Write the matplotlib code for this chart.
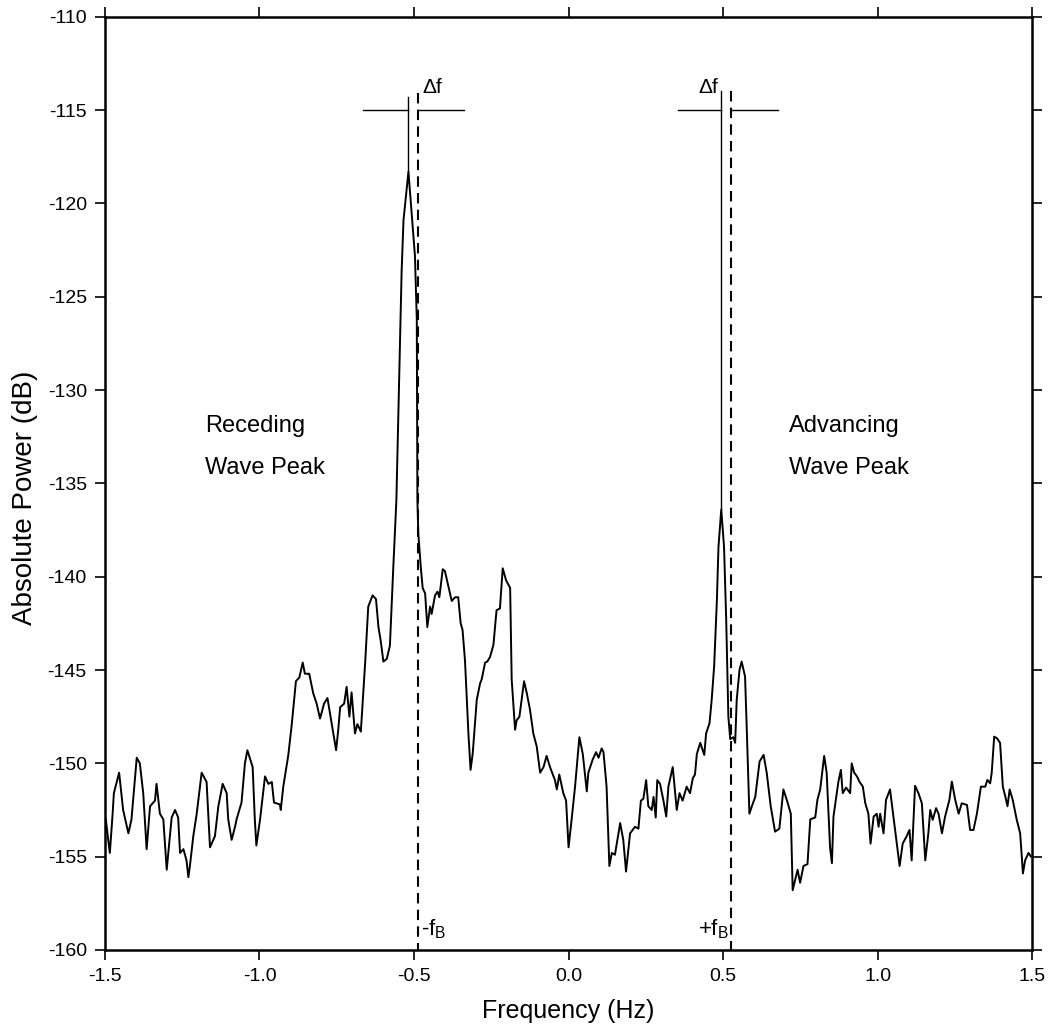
import matplotlib
matplotlib.use("Agg")
import matplotlib.pyplot as plt

plt.rcParams['font.family'] = ['Liberation Sans', 'DejaVu Sans']
plt.rcParams['axes.unicode_minus'] = False
plt.rcParams['mathtext.default'] = 'regular'

# ---- data ----
freq = [-1.497, -1.490, -1.484, -1.475, -1.471, -1.454, -1.441, -1.424, -1.414, -1.397,
        -1.387, -1.376, -1.365, -1.354, -1.338, -1.333, -1.322, -1.311, -1.300, -1.284,
        -1.273, -1.263, -1.257, -1.246, -1.236, -1.230, -1.225, -1.214, -1.203, -1.187,
        -1.171, -1.160, -1.144, -1.133, -1.119, -1.106, -1.101, -1.090, -1.079, -1.074,
        -1.058, -1.047, -1.039, -1.022, -1.015, -1.010, -0.998, -0.982, -0.971, -0.960,
        -0.953, -0.934, -0.931, -0.923, -0.907, -0.896, -0.882, -0.871, -0.860, -0.853,
        -0.839, -0.826, -0.815, -0.804, -0.791, -0.780, -0.772, -0.763, -0.752, -0.745,
        -0.739, -0.726, -0.718, -0.709, -0.702, -0.691, -0.683, -0.672, -0.658, -0.648,
        -0.634, -0.623, -0.615, -0.608, -0.599, -0.588, -0.578, -0.567, -0.557, -0.540,
        -0.534, -0.518, -0.497, -0.491, -0.489, -0.486, -0.478, -0.472, -0.464, -0.457,
        -0.448, -0.443, -0.432, -0.424, -0.418, -0.407, -0.400, -0.389, -0.378, -0.367,
        -0.357, -0.349, -0.343, -0.335, -0.324, -0.317, -0.310, -0.297, -0.286, -0.281,
        -0.270, -0.263, -0.254, -0.243, -0.233, -0.222, -0.213, -0.202, -0.189, -0.184,
        -0.173, -0.168, -0.159, -0.144, -0.135, -0.125, -0.114, -0.103, -0.092, -0.081,
        -0.071, -0.060, -0.044, -0.038, -0.030, -0.017, -0.008, 0.000, 0.010, 0.021,
        0.035, 0.046, 0.059, 0.064, 0.078, 0.089, 0.097, 0.107, 0.113, 0.123,
        0.132, 0.140, 0.150, 0.167, 0.177, 0.186, 0.199, 0.215, 0.226, 0.234,
        0.242, 0.251, 0.258, 0.269, 0.275, 0.282, 0.287, 0.296, 0.307, 0.316,
        0.323, 0.337, 0.350, 0.359, 0.369, 0.382, 0.393, 0.402, 0.409, 0.415,
        0.426, 0.439, 0.445, 0.456, 0.463, 0.471, 0.480, 0.485, 0.494, 0.503,
        0.510, 0.517, 0.523, 0.533, 0.539, 0.544, 0.553, 0.560, 0.571, 0.577,
        0.585, 0.593, 0.604, 0.618, 0.631, 0.641, 0.654, 0.668, 0.682, 0.695,
        0.706, 0.719, 0.725, 0.733, 0.741, 0.749, 0.760, 0.773, 0.782, 0.798,
        0.805, 0.814, 0.827, 0.835, 0.846, 0.852, 0.857, 0.873, 0.881, 0.887,
        0.898, 0.911, 0.916, 0.924, 0.933, 0.941, 0.952, 0.960, 0.970, 0.977,
        0.987, 0.997, 1.003, 1.008, 1.019, 1.027, 1.040, 1.051, 1.071, 1.081,
        1.094, 1.103, 1.110, 1.121, 1.132, 1.143, 1.154, 1.164, 1.170, 1.178,
        1.189, 1.197, 1.208, 1.218, 1.232, 1.240, 1.251, 1.262, 1.272, 1.289,
        1.299, 1.310, 1.321, 1.334, 1.348, 1.355, 1.364, 1.369, 1.377, 1.386,
        1.396, 1.405, 1.413, 1.420, 1.427, 1.437, 1.450, 1.461, 1.470, 1.477,
        1.488, 1.496]
power = [-153.0, -154.0, -154.8, -152.7, -151.6, -150.5, -152.5, -153.75, -153.0, -149.7,
         -150.0, -151.6, -154.6, -152.3, -152.0, -151.1, -152.7, -153.0, -155.7, -152.9,
         -152.5, -152.9, -154.8, -154.6, -155.2, -156.1, -155.5, -153.9, -152.7, -150.5,
         -151.0, -154.5, -153.9, -152.3, -151.1, -151.6, -153.0, -154.1, -153.4, -153.0,
         -152.1, -150.0, -149.3, -150.2, -153.0, -154.4, -153.0, -150.7, -151.1, -151.0,
         -152.1, -152.2, -152.5, -151.25, -149.6, -148.0, -145.6, -145.4, -144.6, -145.2,
         -145.2, -146.25, -146.8, -147.6, -146.8, -146.5, -147.3, -148.2, -149.3, -148.2,
         -147.0, -146.8, -145.9, -147.5, -146.2, -148.4, -147.9, -148.3, -144.6, -141.6,
         -141.0, -141.2, -142.7, -143.4, -144.55, -144.4, -143.7, -139.5, -135.9, -123.6,
         -120.9, -118.3, -122.8, -126.2, -135.9, -137.7, -139.5, -140.6, -140.9, -142.7,
         -141.6, -142.0, -141.0, -140.8, -141.1, -139.6, -139.7, -140.5, -141.3, -141.1,
         -141.1, -142.5, -142.85, -144.5, -148.4, -150.35, -149.46, -146.6, -145.7, -145.5,
         -144.6, -144.55, -144.3, -143.65, -141.8, -141.7, -139.55, -140.2, -140.6, -145.5,
         -148.2, -147.7, -147.5, -145.6, -146.25, -147.1, -148.4, -149.1, -150.5, -150.2,
         -149.6, -150.2, -150.9, -151.4, -150.6, -151.6, -152.0, -154.5, -153.0, -151.25,
         -148.6, -149.5, -151.5, -150.5, -149.8, -149.4, -149.7, -149.2, -149.4, -151.25,
         -155.5, -154.8, -154.9, -153.2, -154.1, -155.8, -153.75, -153.4, -153.5, -152.0,
         -151.9, -150.9, -152.3, -152.5, -151.8, -152.9, -150.9, -151.1, -152.0, -152.85,
         -151.25, -150.2, -152.5, -151.6, -152.0, -151.25, -151.6, -150.8, -150.6, -149.5,
         -148.9, -149.55, -148.4, -147.85, -146.6, -144.8, -141.2, -138.4, -136.4, -138.4,
         -142.3, -147.5, -148.7, -148.6, -148.9, -146.6, -145.0, -144.55, -145.35, -148.4,
         -152.7, -152.3, -151.8, -149.9, -149.55, -150.5, -152.3, -153.66, -153.5, -151.4,
         -151.96, -152.7, -156.8, -156.25, -155.7, -156.4, -155.5, -155.4, -153.0, -152.9,
         -151.96, -151.4, -149.6, -150.5, -154.5, -155.35, -152.86, -150.98, -150.35, -151.6,
         -151.3, -151.6, -150.0, -150.5, -150.7, -150.98, -151.25, -152.14, -152.7, -154.3,
         -152.85, -152.7, -153.4, -152.7, -153.75, -151.96, -151.4, -152.85, -155.5, -154.3,
         -153.9, -153.57, -155.2, -151.2, -151.6, -152.14, -155.2, -153.75, -152.5, -153.03,
         -152.4, -152.7, -153.75, -152.86, -151.96, -150.98, -151.96, -152.7, -152.14, -152.23,
         -153.57, -153.57, -152.7, -151.25, -151.25, -150.89, -151.07, -150.5, -148.57, -148.66,
         -148.9, -151.25, -151.78, -152.3, -151.4, -151.96, -153.03, -153.75, -155.9, -155.2,
         -154.8, -155.0]

x_ticks = [-1.5, -1.0, -0.5, 0.0, 0.5, 1.0, 1.5]
x_tick_labels = ['-1.5', '-1.0', '-0.5', '0.0', '0.5', '1.0', '1.5']
y_ticks = [-160, -155, -150, -145, -140, -135, -130, -125, -120, -115, -110]
y_tick_labels = [str(v) for v in y_ticks]

# annotation positions (Hz / dB)
rec_peak_f, rec_peak_p = -0.518, -118.3
adv_peak_f, adv_peak_p = 0.494, -136.4
minus_fb = -0.488
plus_fb = 0.526

fig = plt.figure(figsize=(10.49, 10.30), dpi=100)
ax = fig.add_axes([0.100, 0.0777, 0.884, 0.906])

ax.plot(freq, power, color='black', lw=1.4)

# marker lines: solid at peak, dashed at +-fB
ax.plot([rec_peak_f, rec_peak_f], [-114.3, rec_peak_p], color='black', lw=1.0)
ax.plot([adv_peak_f, adv_peak_f], [-114.0, adv_peak_p], color='black', lw=1.0)
ax.plot([minus_fb, minus_fb], [-114.1, -160], color='black', lw=1.5, ls=(0, (5, 3)))
ax.plot([plus_fb, plus_fb], [-114.0, -160], color='black', lw=1.5, ls=(0, (5, 3)))
# horizontal delta-f bars
ax.plot([-0.665, rec_peak_f], [-115.0, -115.0], color='black', lw=1.0)
ax.plot([minus_fb, -0.338], [-115.0, -115.0], color='black', lw=1.0)
ax.plot([0.354, adv_peak_f], [-115.0, -115.0], color='black', lw=1.0)
ax.plot([plus_fb, 0.678], [-115.0, -115.0], color='black', lw=1.0)

ax.text(minus_fb + 0.014, -113.8, '\u0394f', fontsize=15, va='center', ha='left')
ax.text(adv_peak_f - 0.010, -113.8, '\u0394f', fontsize=15, va='center', ha='right')
ax.text(minus_fb + 0.010, -158.9, '-f$_{B}$', fontsize=16, va='center', ha='left')
ax.text(plus_fb - 0.008, -158.9, '+f$_{B}$', fontsize=16, va='center', ha='right')

ax.text(-1.176, -131.9, 'Receding', fontsize=17, va='center', ha='left')
ax.text(-1.176, -134.2, 'Wave Peak', fontsize=17, va='center', ha='left')
ax.text(0.714, -131.9, 'Advancing', fontsize=17, va='center', ha='left')
ax.text(0.714, -134.2, 'Wave Peak', fontsize=17, va='center', ha='left')

ax.set_xlim(-1.5, 1.5)
ax.set_ylim(-160, -110)
ax.set_xticks(x_ticks)
ax.set_xticklabels(x_tick_labels)
ax.set_yticks(y_ticks)
ax.set_yticklabels(y_tick_labels)
ax.tick_params(direction='out', length=7, width=1.2, labelsize=14,
               top=True, right=True, pad=6)
for s in ax.spines.values():
    s.set_linewidth(1.8)

ax.set_xlabel('Frequency (Hz)', fontsize=18, labelpad=10)
ax.set_ylabel('Absolute Power (dB)', fontsize=20)
ax.yaxis.set_label_coords(-0.072, 0.484)

fig.savefig('out.png', dpi=100)
